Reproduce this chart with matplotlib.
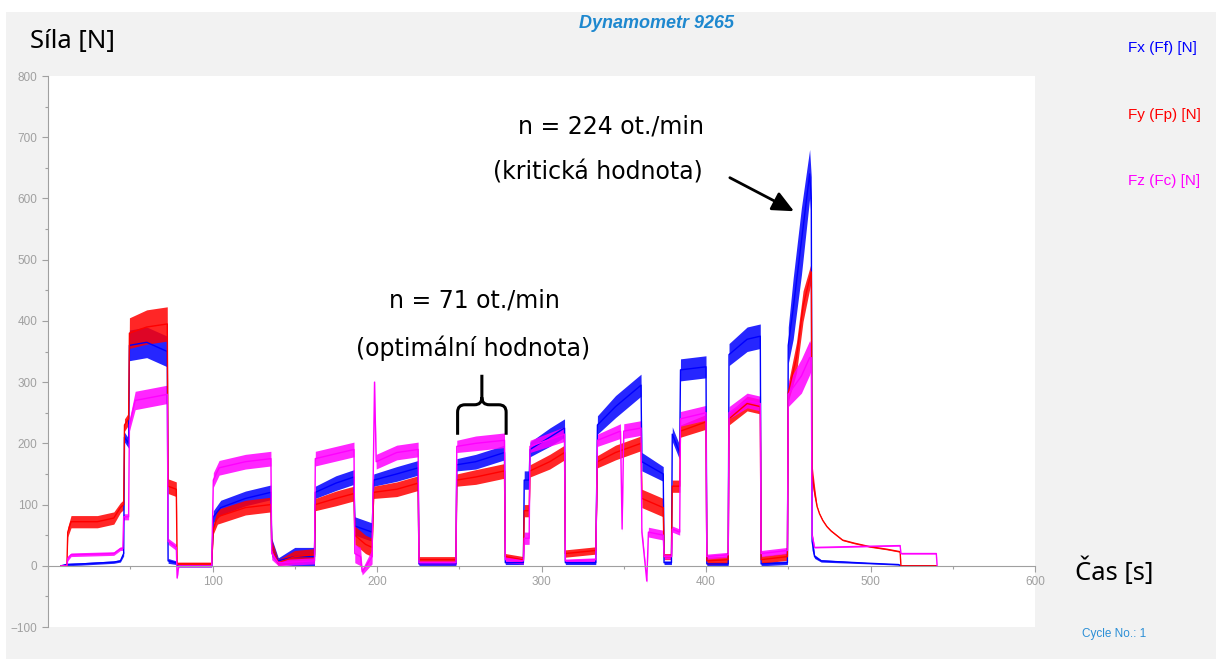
import numpy as np
import matplotlib
matplotlib.use("Agg")
import matplotlib.pyplot as plt
from matplotlib.patches import Rectangle, PathPatch
from matplotlib.path import Path
from matplotlib.ticker import MultipleLocator

# Dynamometer 9265 record: time [s], force level [N] and noise half-width [N]
fx_time = [8, 11, 20, 40, 44, 46, 46.5, 49, 49.5, 60, 72.5, 73, 78, 78.5, 99.5,
           100.5, 105, 120, 135.5, 136, 140, 150, 162, 162.5, 175, 186, 186.5,
           197, 198, 212, 225, 225.5, 248, 248.5, 260, 277.5, 278, 289, 289.5,
           292.5, 293, 305, 314, 314.5, 333, 334, 345, 360.5, 361, 374, 374.5,
           379, 379.5, 384, 384.5, 400, 400.5, 413.5, 414, 425, 433, 433.5,
           449.5, 450, 453, 458, 463, 464, 464.5, 466, 470, 500, 517, 518.5, 540]
fx_level = [0, 2, 3, 6, 8, 20, 210, 200, 360, 365, 350, 8, 5, 0, 0,
            80, 95, 110, 120, 30, 8, 15, 15, 120, 135, 145, 65,
            55, 140, 150, 160, 3, 3, 165, 170, 185, 5, 5, 140,
            140, 190, 210, 225, 5, 5, 230, 260, 295, 170, 150, 5,
            5, 215, 185, 320, 325, 3, 3, 345, 370, 375, 3,
            5, 360, 420, 530, 640, 600, 40, 15, 8, 4, 2, 0, 0]
fx_band = [1, 2, 2, 2, 2, 4, 8, 8, 25, 25, 25, 4, 3, 2, 2,
           10, 12, 12, 12, 15, 5, 15, 15, 10, 12, 12, 15,
           15, 10, 12, 12, 3, 3, 10, 12, 12, 3, 3, 15,
           15, 12, 15, 15, 3, 3, 15, 18, 18, 15, 12, 3,
           3, 12, 12, 18, 18, 3, 3, 18, 20, 20, 3,
           3, 30, 50, 55, 40, 35, 15, 3, 2, 1, 1, 1, 1]

fy_time = [8, 11.5, 12, 14, 30, 40, 44, 46, 46.5, 49, 49.5, 60, 72.5, 73, 78,
           78.5, 99.5, 100.5, 103, 120, 135.5, 136, 140, 150, 162, 162.5, 175,
           186, 186.5, 193, 197, 198, 212, 225, 225.5, 248, 248.5, 260, 277.5,
           278, 289, 289.5, 292.5, 293, 305, 314, 314.5, 333, 334, 345, 360.5,
           361, 374, 374.5, 379, 379.5, 384, 384.5, 400, 400.5, 413.5, 414, 425,
           433, 433.5, 449.5, 450, 455, 459, 464, 464.5, 466, 467.5, 469, 471,
           473.5, 476, 483, 490, 500, 510, 518, 518.5, 540]
fy_level = [0, 0, 55, 72, 72, 78, 95, 100, 230, 240, 380, 390, 395, 130, 125,
            3, 3, 60, 80, 95, 100, 30, 5, 15, 18, 100, 110,
            118, 50, 35, 30, 120, 125, 135, 10, 10, 140, 145, 155,
            15, 10, 90, 90, 155, 170, 185, 20, 25, 170, 185, 200,
            110, 95, 15, 15, 130, 130, 220, 235, 8, 10, 240, 265,
            260, 10, 15, 283, 340, 424, 480, 150, 120, 97, 85, 74,
            64, 57, 42, 37, 31, 27, 23, 0, 0]
fy_band = [1, 1, 8, 10, 10, 10, 8, 8, 10, 10, 25, 28, 28, 12, 12,
           3, 3, 8, 12, 12, 12, 12, 5, 10, 10, 10, 12,
           12, 15, 15, 15, 10, 12, 12, 5, 5, 10, 12, 12,
           5, 5, 10, 10, 10, 12, 12, 6, 6, 10, 12, 12,
           15, 15, 5, 5, 10, 10, 10, 12, 6, 6, 10, 12,
           12, 6, 6, 15, 25, 25, 15, 15, 10, 1, 1, 1,
           1, 1, 1, 1, 1, 1, 1, 1, 1]

fz_time = [8, 11.5, 12, 14, 40, 44, 45.5, 46, 49, 49.5, 53, 72.5, 73, 78, 78.5,
           79.5, 99.5, 100.5, 104, 120, 135.5, 136, 140, 162, 162.5, 186, 186.5,
           190, 191, 197, 198.5, 199.5, 212, 225, 225.5, 248, 248.5, 260, 277.5,
           278, 289, 289.5, 292.5, 293, 314, 314.5, 333, 334, 348, 349, 350,
           360.5, 361, 364, 365, 374, 374.5, 379, 379.5, 384, 384.5, 400, 400.5,
           413.5, 414, 425, 433, 433.5, 449.5, 450, 458, 463, 464, 464.5, 466,
           518, 518.5, 540, 540.5]
fz_level = [0, 0, 12, 18, 20, 28, 28, 80, 80, 230, 270, 280, 40, 30, -20,
            0, 0, 140, 160, 170, 175, 20, 5, 8, 175, 190, 20,
            15, -10, 15, 300, 170, 185, 190, 5, 5, 195, 200, 205,
            10, 8, 45, 45, 195, 215, 8, 10, 205, 220, 60, 220,
            225, 55, -25, 55, 50, 15, 15, 60, 55, 240, 250, 15,
            18, 250, 270, 265, 20, 25, 280, 310, 340, 340, 50, 30,
            33, 20, 20, 0]
fz_band = [1, 1, 4, 3, 3, 3, 3, 5, 5, 10, 15, 15, 5, 5, 2,
           2, 2, 12, 12, 12, 12, 10, 5, 5, 12, 12, 15,
           15, 5, 12, 5, 12, 12, 12, 3, 3, 10, 12, 12,
           5, 5, 10, 10, 10, 12, 3, 3, 10, 12, 5, 12,
           12, 8, 3, 8, 8, 4, 4, 5, 5, 12, 12, 4,
           4, 10, 12, 12, 5, 5, 20, 28, 28, 20, 5, 1,
           1, 1, 1, 1]

series = [
    ("Fx (Ff) [N]", fx_time, fx_level, fx_band, "#0000ff"),
    ("Fy (Fp) [N]", fy_time, fy_level, fy_band, "#ff0000"),
    ("Fz (Fc) [N]", fz_time, fz_level, fz_band, "#ff00ff"),
]

opt_range = (249, 278.5)      # n = 71 ot./min segment
crit_peak = (455, 577)        # arrow tip near the n = 224 peak

fig = plt.figure(figsize=(12.16, 6.59), dpi=100)
fig.patch.set_facecolor("white")
fig.patches.append(Rectangle((6 / 1216, 0), 1, 1 - 12 / 659, transform=fig.transFigure,
                             facecolor="#f2f2f2", edgecolor="none", zorder=-10))

ax = fig.add_axes([48 / 1216, 1 - 627 / 659, 987 / 1216, 551 / 659])
ax.set_facecolor("white")
ax.set_xlim(0, 600)
ax.set_ylim(-100, 800)

for name, t, lvl, band, col in series:
    t = np.asarray(t, float)
    lvl = np.asarray(lvl, float)
    band = np.asarray(band, float)
    ax.fill_between(t, lvl - band, lvl + band, color=col, alpha=0.85, lw=0)
    ax.plot(t, lvl, color=col, lw=1.0)

# axes styling: y axis on the left, x axis running through zero
for s in ["top", "right"]:
    ax.spines[s].set_visible(False)
ax.spines["left"].set_color("#a0a0a0")
ax.spines["bottom"].set_position(("data", 0))
ax.spines["bottom"].set_color("#a0a0a0")
ax.yaxis.set_major_locator(MultipleLocator(100))
ax.yaxis.set_minor_locator(MultipleLocator(50))
ax.xaxis.set_major_locator(MultipleLocator(100))
ax.xaxis.set_minor_locator(MultipleLocator(50))
ax.tick_params(axis="both", which="major", colors="#a0a0a0", labelcolor="#a0a0a0",
               labelsize=8.5, length=4, width=0.8)
ax.tick_params(axis="both", which="minor", colors="#a0a0a0", length=2, width=0.8)
ax.set_xticks([100, 200, 300, 400, 500, 600])
for lab in ax.get_xticklabels() + ax.get_yticklabels():
    lab.set_family("Liberation Sans")

# titles and captions
fig.text(0.540, 0.9636, "Dynamometr 9265", ha="center", va="center", fontsize=13,
         color="#1e88cf", family="Liberation Sans", weight="bold", style="italic")
fig.text(30 / 1216, 1 - 42 / 659, "Síla [N]", ha="left", va="center", fontsize=18.5,
         family="Noto Sans")
fig.text(1075 / 1216, 1 - 572 / 659, "Čas [s]", ha="left", va="center", fontsize=18.5,
         family="Noto Sans")
fig.text(1082 / 1216, 1 - 634 / 659, "Cycle No.: 1", ha="left", va="center", fontsize=8.5,
         color="#2c8fd6", family="Liberation Sans")
for (name, _, _, _, col), ypx in zip(series, [48, 115, 181]):
    fig.text(1128 / 1216, 1 - ypx / 659, name, ha="left", va="center", fontsize=11,
             color=col, family="Liberation Sans")

# annotations
ax.text(342, 718, "n = 224 ot./min", ha="center", va="center", fontsize=17, family="DejaVu Sans")
ax.text(334, 643, "(kritická hodnota)", ha="center", va="center", fontsize=17, family="DejaVu Sans")
ax.text(259, 433, "n = 71 ot./min", ha="center", va="center", fontsize=17, family="DejaVu Sans")
ax.text(258.5, 356, "(optimální hodnota)", ha="center", va="center", fontsize=17, family="DejaVu Sans")
ax.annotate("", xy=crit_peak, xytext=(413, 636),
            arrowprops=dict(arrowstyle="-|>,head_length=1.3,head_width=0.6", color="black", lw=2))

# curly brace over the optimal segment
x0, x1 = opt_range
xm = (x0 + x1) / 2
yb, yh, yt = 214, 263, 312
rx, ry = 4.5, 12
verts = [(x0, yb), (x0, yh - ry), (x0, yh), (x0 + rx, yh), (xm - rx, yh), (xm, yh), (xm, yh + ry),
         (xm, yt), (xm, yh + ry), (xm, yh), (xm + rx, yh), (x1 - rx, yh), (x1, yh), (x1, yh - ry),
         (x1, yb)]
codes = [Path.MOVETO, Path.LINETO, Path.CURVE3, Path.CURVE3, Path.LINETO, Path.CURVE3, Path.CURVE3,
         Path.LINETO, Path.MOVETO, Path.CURVE3, Path.CURVE3, Path.LINETO, Path.CURVE3, Path.CURVE3,
         Path.LINETO]
ax.add_patch(PathPatch(Path(verts, codes), facecolor="none", edgecolor="black", lw=2.2, zorder=5))

fig.savefig("out.png", dpi=100)
